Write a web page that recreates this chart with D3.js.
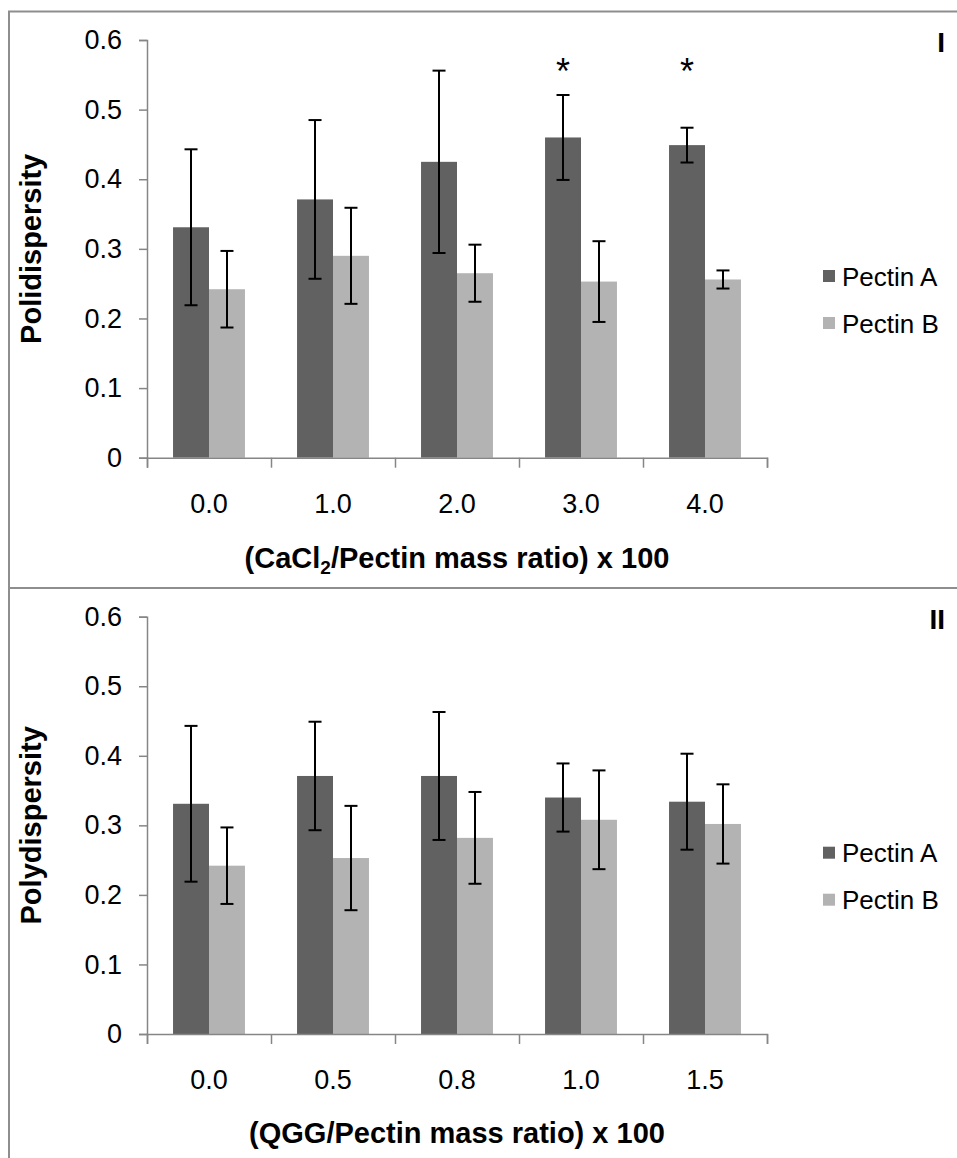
<!DOCTYPE html>
<html>
<head>
<meta charset="utf-8">
<script src="https://cdn.jsdelivr.net/npm/d3@7"></script>
<style>
  html, body { margin: 0; padding: 0; background: #fff; }
  svg { display: block; }
  text { font-family: "Liberation Sans", Arial, sans-serif; fill: #000; }
</style>
</head>
<body>
<svg id="chart" width="957" height="1158"></svg>
<script>
// ---------- data ----------
const seriesNames = ["Pectin A", "Pectin B"];
const seriesColors = ["#616161", "#b3b3b3"];
const yTickValues = [0, 0.1, 0.2, 0.3, 0.4, 0.5, 0.6];

const categoriesCaCl2 = ["0.0", "1.0", "2.0", "3.0", "4.0"];
const pectinA_CaCl2 = [0.331, 0.371, 0.425, 0.460, 0.449];
const pectinA_CaCl2_err = [0.112, 0.114, 0.131, 0.061, 0.025];
const pectinB_CaCl2 = [0.242, 0.290, 0.265, 0.253, 0.256];
const pectinB_CaCl2_err = [0.055, 0.069, 0.041, 0.058, 0.013];
const significantA_CaCl2 = [false, false, false, true, true];

const categoriesQGG = ["0.0", "0.5", "0.8", "1.0", "1.5"];
const pectinA_QGG = [0.331, 0.371, 0.371, 0.340, 0.334];
const pectinA_QGG_err = [0.112, 0.078, 0.092, 0.049, 0.069];
const pectinB_QGG = [0.242, 0.253, 0.282, 0.308, 0.302];
const pectinB_QGG_err = [0.055, 0.075, 0.066, 0.071, 0.057];
const significantA_QGG = [false, false, false, false, false];

// ---------- drawing ----------
const svg = d3.select("#chart");
const borderColor = "#8e8e8e";
const axisColor = "#868686";

// panel frames
svg.append("path")
  .attr("d", "M9,1158 L9,11.5 L960,11.5")
  .attr("fill", "none").attr("stroke", borderColor).attr("stroke-width", 2);
svg.append("line")
  .attr("x1", 9).attr("x2", 960).attr("y1", 588).attr("y2", 588)
  .attr("stroke", borderColor).attr("stroke-width", 2);

function drawPanel(cfg) {
  const g = svg.append("g");
  const left = 147, right = 767;
  const y = d3.scaleLinear().domain([0, 0.6]).range([cfg.y0, cfg.y6]);
  const x0 = d3.scaleBand().domain(cfg.categories).range([left, right])
    .paddingInner(0.42).paddingOuter(0.21);
  const x1 = d3.scaleBand().domain(seriesNames).range([0, x0.bandwidth()]);
  const xb = d3.scaleLinear().domain([0, cfg.categories.length]).range([left, right]);

  const rows = cfg.categories.map((c, i) => ({
    cat: c,
    vals: [
      { s: seriesNames[0], v: cfg.a[i], e: cfg.aErr[i], sig: cfg.sig[i] },
      { s: seriesNames[1], v: cfg.b[i], e: cfg.bErr[i], sig: false }
    ]
  }));

  // bars
  const grp = g.selectAll("g.cat").data(rows).join("g")
    .attr("transform", d => `translate(${x0(d.cat)},0)`);
  grp.selectAll("rect").data(d => d.vals).join("rect")
    .attr("x", d => x1(d.s))
    .attr("width", x1.bandwidth())
    .attr("y", d => y(d.v))
    .attr("height", d => y(0) - y(d.v))
    .attr("fill", (d, i) => seriesColors[i]);

  // axes
  const yAxis = d3.axisLeft(y).tickValues(yTickValues).tickSize(8).tickPadding(17)
    .tickFormat(d => d === 0 ? "0" : d3.format(".1f")(d));
  const ya = g.append("g").attr("transform", `translate(${left},0)`).call(yAxis);
  ya.select(".domain").attr("stroke", axisColor).attr("stroke-width", 1.5);
  ya.selectAll(".tick line").attr("stroke", axisColor).attr("stroke-width", 1.5);
  ya.selectAll("text").attr("font-size", 27).attr("fill", "#000")
    .attr("font-family", '"Liberation Sans", Arial, sans-serif');

  const xTicks = d3.axisBottom(xb).tickValues(d3.range(cfg.categories.length + 1))
    .tickSize(10).tickFormat("");
  const xt = g.append("g").attr("transform", `translate(0,${y(0)})`).call(xTicks);
  xt.select(".domain").attr("stroke", axisColor).attr("stroke-width", 1.5);
  xt.selectAll(".tick line").attr("stroke", axisColor).attr("stroke-width", 1.5);

  const xLabels = d3.axisBottom(x0).tickSize(0).tickPadding(36);
  const xl = g.append("g").attr("transform", `translate(0,${y(0)})`).call(xLabels);
  xl.select(".domain").remove();
  xl.selectAll("text").attr("font-size", 27).attr("fill", "#000")
    .attr("font-family", '"Liberation Sans", Arial, sans-serif');

  // error bars
  const eb = grp.selectAll("g.err").data(d => d.vals).join("g").attr("class", "err");
  const cx = d => x1(d.s) + x1.bandwidth() / 2;
  eb.append("line")
    .attr("x1", cx).attr("x2", cx)
    .attr("y1", d => y(d.v + d.e)).attr("y2", d => y(d.v - d.e))
    .attr("stroke", "#000").attr("stroke-width", 2);
  [1, -1].forEach(sgn => {
    eb.append("line")
      .attr("x1", d => cx(d) - 6.5).attr("x2", d => cx(d) + 6.5)
      .attr("y1", d => y(d.v + sgn * d.e)).attr("y2", d => y(d.v + sgn * d.e))
      .attr("stroke", "#000").attr("stroke-width", 2);
  });

  // significance asterisks
  grp.selectAll("text.sig").data(d => d.vals.filter(v => v.sig)).join("text")
    .attr("class", "sig")
    .attr("x", cx)
    .attr("y", cfg.y6 + 44)
    .attr("text-anchor", "middle")
    .attr("font-size", 36)
    .text("*");

  // axis titles
  const xt2 = g.append("text")
    .attr("x", (left + right) / 2).attr("y", cfg.xTitleY)
    .attr("text-anchor", "middle").attr("font-size", 29).attr("font-weight", "bold");
  cfg.xTitle.forEach(part => {
    const ts = xt2.append("tspan").text(part.t);
    if (part.sub) ts.attr("font-size", 19).attr("dy", 6);
    if (part.after) ts.attr("dy", -6);
  });

  g.append("text")
    .attr("transform", `translate(41,${(cfg.y0 + cfg.y6) / 2}) rotate(-90)`)
    .attr("text-anchor", "middle").attr("font-size", 29).attr("font-weight", "bold")
    .text(cfg.yTitle);

  // panel label
  g.append("text")
    .attr("x", 945).attr("y", cfg.y6 + 12)
    .attr("text-anchor", "end").attr("font-size", 28).attr("font-weight", "bold")
    .text(cfg.label);

  // legend
  const lg = g.append("g").attr("transform", `translate(823,${cfg.y6 + 236})`);
  seriesNames.forEach((s, i) => {
    lg.append("rect").attr("x", 0).attr("y", i * 47 - 6).attr("width", 12).attr("height", 12)
      .attr("fill", seriesColors[i]);
    lg.append("text").attr("x", 19).attr("y", i * 47 + 9.5)
      .attr("font-size", 26).text(s);
  });
}

drawPanel({
  categories: categoriesCaCl2,
  a: pectinA_CaCl2, aErr: pectinA_CaCl2_err,
  b: pectinB_CaCl2, bErr: pectinB_CaCl2_err,
  sig: significantA_CaCl2,
  y0: 457.7, y6: 40,
  xTitleY: 568,
  xTitle: [{ t: "(CaCl" }, { t: "2", sub: true }, { t: "/Pectin mass ratio) x 100", after: true }],
  yTitle: "Polidispersity",
  label: "I"
});

drawPanel({
  categories: categoriesQGG,
  a: pectinA_QGG, aErr: pectinA_QGG_err,
  b: pectinB_QGG, bErr: pectinB_QGG_err,
  sig: significantA_QGG,
  y0: 1034, y6: 616.7,
  xTitleY: 1143,
  xTitle: [{ t: "(QGG/Pectin mass ratio) x 100" }],
  yTitle: "Polydispersity",
  label: "II"
});
</script>
</body>
</html>
